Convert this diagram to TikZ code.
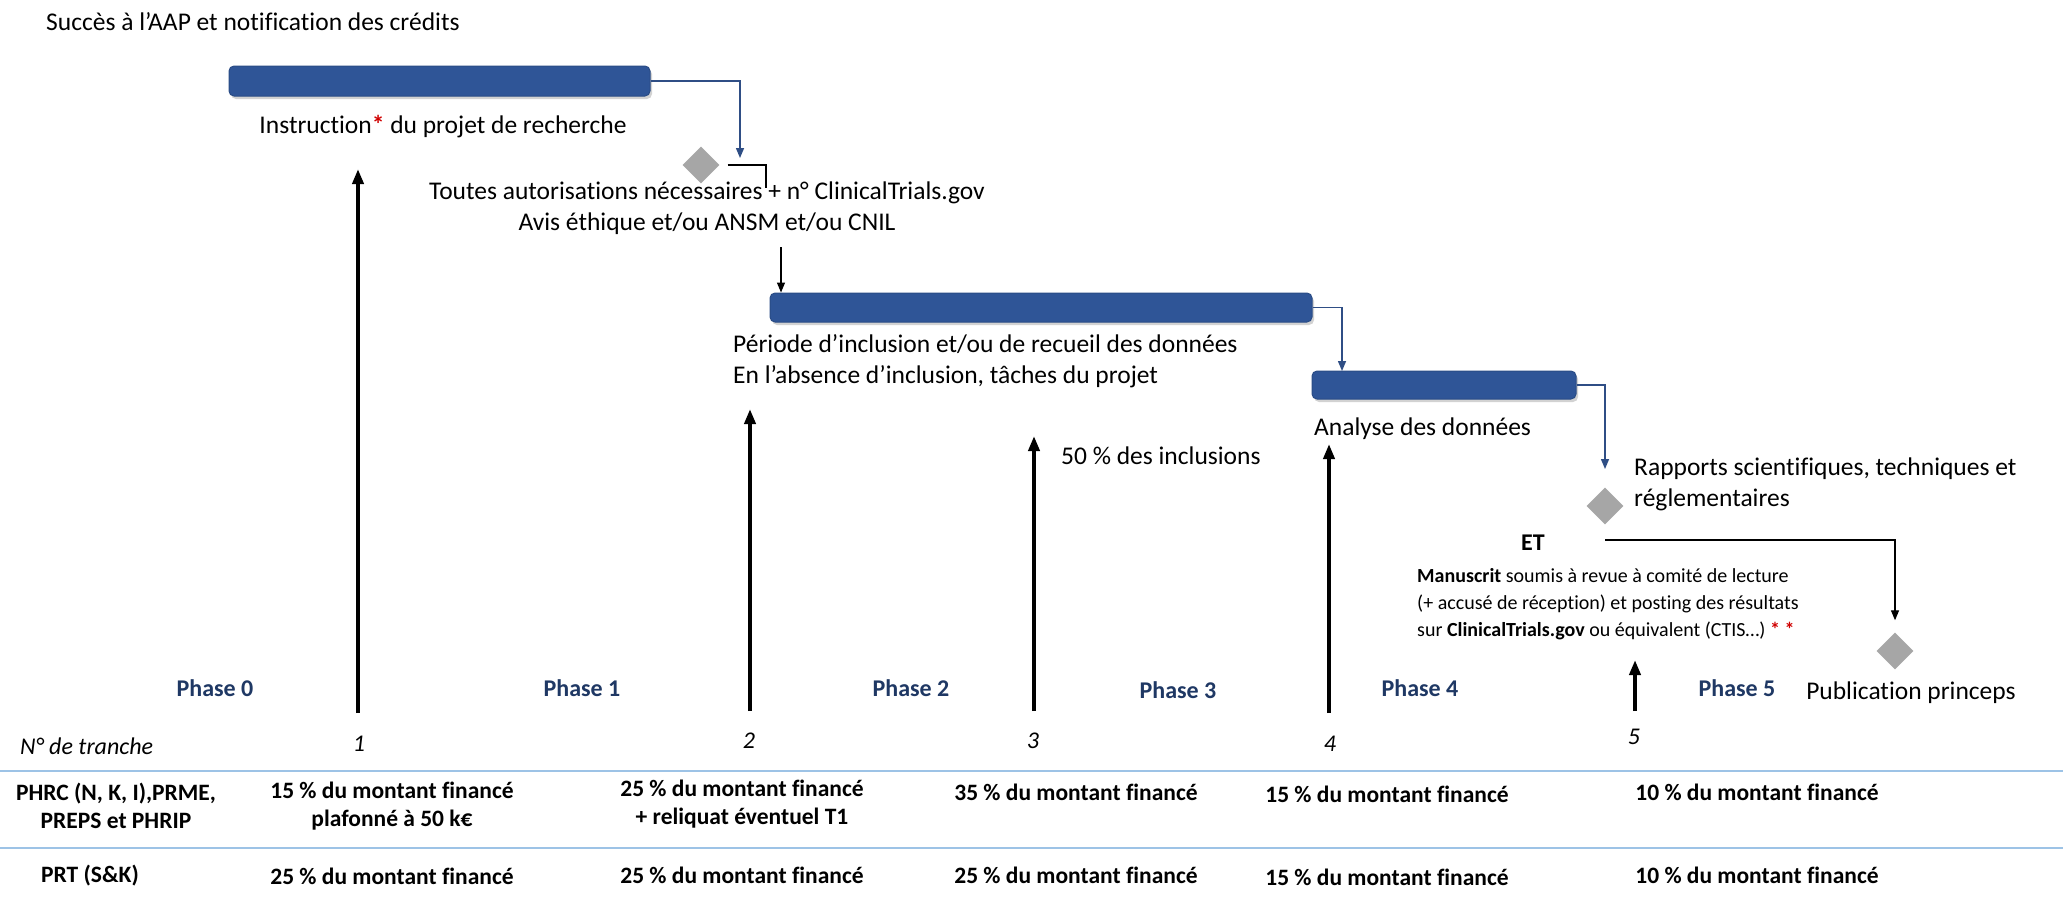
\documentclass[tikz,border=0pt]{standalone}
\usepackage{fontspec}
\setmainfont{Carlito}[Ligatures=NoCommon]
\usetikzlibrary{arrows.meta,shapes.geometric,shadows,calc}
\definecolor{barblue}{HTML}{2F5597}
\definecolor{barline}{HTML}{2A4C86}
\definecolor{linkblue}{HTML}{2F4E85}
\definecolor{phasecol}{HTML}{1F3864}
\definecolor{diagray}{HTML}{A6A6A6}
\definecolor{rowline}{HTML}{9DC3E6}
\definecolor{astred}{HTML}{D00000}
\begin{document}
\begin{tikzpicture}[x=1pt,y=-1pt,
  bar/.style={rectangle, rounded corners=5pt, fill=barblue, draw=barline, line width=1pt, inner sep=0pt,
    drop shadow={shadow xshift=2pt, shadow yshift=-3pt, opacity=0.35}},
  txt/.style={font=\fontsize{25.5}{31}\selectfont, inner sep=0pt, align=center},
  smalltxt/.style={font=\fontsize{20}{27}\selectfont, inner sep=0pt, align=left},
  phase/.style={font=\fontsize{24}{28}\selectfont\bfseries, text=phasecol, inner sep=0pt},
  tab/.style={font=\fontsize{23.5}{28}\selectfont\bfseries, inner sep=0pt, align=center},
  num/.style={font=\fontsize{24}{28}\selectfont\itshape, inner sep=0pt},
  dia/.style={diamond, aspect=1, fill=diagray, inner sep=0pt, minimum width=37pt, minimum height=37pt},
  blink/.style={draw=linkblue, line width=1.4pt, -{Triangle[length=10pt,width=8pt]}},
  klink/.style={draw=black, line width=1.3pt, -{Triangle[length=10pt,width=8pt]}},
  kline/.style={draw=black, line width=1.3pt},
  bigarrow/.style={draw=black, line width=3.8pt, -{Triangle[length=15pt,width=11pt]}},
  rowrule/.style={draw=rowline, line width=2pt}
]
\useasboundingbox (0,0) rectangle (2071,900);
\fill[white] (0,0) rectangle (2071,900);

% top text
\node[txt, anchor=west] (succes) at (46,22) {Succès à l’AAP et notification des crédits};

% bar 1
\node[bar, minimum width=421pt, minimum height=30pt] (bar1) at (439.5,81) {};
\node[txt] (instr) at (443,127) {Instruction{\color{astred}\bfseries*} du projet de recherche};

% milestone 1
\node[dia] (d1) at (701,165) {};
\node[txt] (autor) at (707,208.5) {Toutes autorisations nécessaires + n° ClinicalTrials.gov\\Avis éthique et/ou ANSM et/ou CNIL};
\coordinate (c1) at (740,158);
\draw[blink] (bar1.east) -| (c1);
\coordinate (k1) at (766,188);
\draw[kline] ([xshift=8pt]d1.east) -| (k1);

% bar 2
\node[bar, minimum width=542pt, minimum height=29pt] (bar2) at (1041,307.5) {};
\coordinate (k2) at (781,247);
\draw[klink] (k2) -- (k2 |- bar2.north);
\node[txt, anchor=west, align=left] (incl) at (733,361) {Période d’inclusion et/ou de recueil des données\\En l’absence d’inclusion, tâches du projet};

% bar 3
\node[bar, minimum width=264pt, minimum height=28pt] (bar3) at (1444,385) {};
\coordinate (c2) at (1342,371);
\draw[blink] (bar2.east) -| (c2);
\node[txt, anchor=west] (anal) at (1314,429) {Analyse des données};

% reports
\coordinate (c3) at (1605,469);
\draw[blink] (bar3.east) -| (c3);
\node[txt, anchor=west, align=left] (rapp) at (1634,484) {Rapports scientifiques, techniques et\\réglementaires};
\node[dia] (d2) at (1605,506) {};

% ET
\node[font=\fontsize{24}{28}\selectfont\bfseries, inner sep=0pt] (et) at (1533,543) {ET};
\coordinate (e0) at (1605,540);
\node[dia] (d3) at (1895,651) {};
\draw[klink, shorten >=12pt] (e0) -| (d3.north);
\node[smalltxt, anchor=west] (manu) at (1417,604) {\textbf{Manuscrit} soumis à revue à comité de lecture\\(+ accusé de réception) et posting des résultats\\sur \textbf{ClinicalTrials.gov} ou équivalent (CTIS…) {\color{astred}\bfseries* *}};
\node[txt] (pub) at (1911,693) {Publication princeps};

\node[txt, anchor=west] (cinq) at (1061,456) {50 \% des inclusions};

% thick arrows
\coordinate (t1b) at (358,713); \coordinate (t1t) at (358,169);
\coordinate (t2b) at (750,711); \coordinate (t2t) at (750,409);
\coordinate (t3b) at (1034,711); \coordinate (t3t) at (1034,436);
\coordinate (t4b) at (1329,713); \coordinate (t4t) at (1329,444);
\coordinate (t5b) at (1635,711); \coordinate (t5t) at (1635,660);
\draw[bigarrow] (t1b) -- (t1t);
\draw[bigarrow] (t2b) -- (t2t);
\draw[bigarrow] (t3b) -- (t3t);
\draw[bigarrow] (t4b) -- (t4t);
\draw[bigarrow] (t5b) -- (t5t);

% phases
\node[phase] (p0) at (215,688) {Phase 0};
\node[phase] (p1) at (582,688) {Phase 1};
\node[phase] (p2) at (911,688) {Phase 2};
\node[phase] (p3) at (1178,690) {Phase 3};
\node[phase] (p4) at (1420,688) {Phase 4};
\node[phase] (p5) at (1737,688) {Phase 5};

% tranche numbers
\node[num, anchor=west] (ntr) at (20,746) {N° de tranche};
\node[num] (n1) at (359,744) {1};
\node[num] (n2) at (749,741) {2};
\node[num] (n3) at (1033,741) {3};
\node[num] (n4) at (1330,744) {4};
\node[num] (n5) at (1634,737) {5};

% table rules
\coordinate (r1a) at (0,771); \coordinate (r1b) at (2063,771);
\coordinate (r2a) at (0,848); \coordinate (r2b) at (2063,848);
\draw[rowrule] (r1a) -- (r1b);
\draw[rowrule] (r2a) -- (r2b);

% row 1
\node[tab] (h1) at (116,806) {PHRC (N, K, I),PRME,\\PREPS et PHRIP};
\node[tab] (a1) at (392,806) {15 \% du montant financé\\plafonné à 50 k€};
\node[tab] (b1) at (742,804) {25 \% du montant financé\\+ reliquat éventuel T1};
\node[tab] (c1t) at (1076,792) {35 \% du montant financé};
\node[tab] (d1t) at (1387,794) {15 \% du montant financé};
\node[tab] (e1t) at (1757,792) {10 \% du montant financé};

% row 2
\node[tab] (h2) at (90,876) {PRT (S\&K)};
\node[tab] (a2) at (392,876) {25 \% du montant financé};
\node[tab] (b2) at (742,875) {25 \% du montant financé};
\node[tab] (c2t) at (1076,875) {25 \% du montant financé};
\node[tab] (d2t) at (1387,877) {15 \% du montant financé};
\node[tab] (e2t) at (1757,875) {10 \% du montant financé};
\end{tikzpicture}
\end{document}
